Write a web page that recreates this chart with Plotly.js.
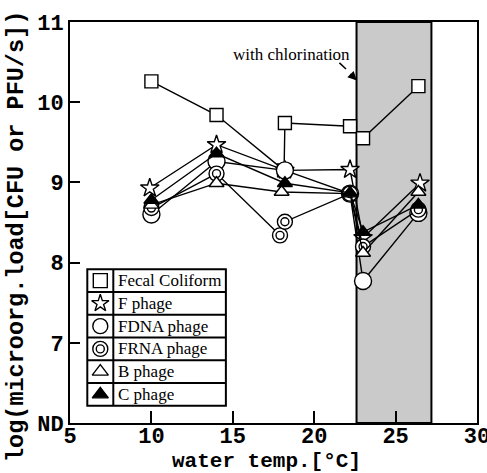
<!DOCTYPE html>
<html>
<head>
<meta charset="utf-8">
<script src="https://cdn.plot.ly/plotly-3.0.1.min.js"></script>
<style>
html,body{margin:0;padding:0;background:#fff;}
#chart{width:487px;height:473px;}
</style>
</head>
<body>
<div id="chart"></div>
<script>
// ---- data ----
const seriesNames = ['Fecal Coliform', 'F phage', 'FDNA phage', 'FRNA phage', 'B phage', 'C phage'];

const fcX   = [10, 14, 18.15, 18.2, 22.2, 23.0, 26.4];
const fcY   = [10.26, 9.84, 9.15, 9.74, 9.70, 9.55, 10.20];

const fX    = [9.9, 14, 18.2, 22.2, 23.0, 26.5];
const fY    = [8.93, 9.47, 9.15, 9.16, 8.31, 8.99];

const fdnaX = [10, 14, 18.2, 22.2, 23.0, 26.4];
const fdnaY = [8.60, 9.26, 9.15, 8.86, 7.77, 8.62];

const frnaX = [10, 14, 17.9, 18.2, 22.2, 23.0, 26.4];
const frnaY = [8.68, 9.11, 8.34, 8.51, 8.86, 8.20, 8.66];

const bX    = [10, 14, 18.0, 22.2, 23.0, 26.4];
const bY    = [8.72, 8.99, 8.88, 8.86, 8.12, 8.88];

const cX    = [10, 14, 18.2, 22.2, 23.0, 26.4];
const cY    = [8.78, 9.36, 8.99, 8.87, 8.38, 8.72];

const chlorStart = 22.6, chlorEnd = 27.2;
const yTickVals  = [6, 7, 8, 9, 10, 11];
const yTickText  = ['ND', '7', '8', '9', '10', '11'];
const xTickVals  = [5, 10, 15, 20, 25, 30];

// ---- styles ----
const ln = {color: '#000', width: 1.4};
const mk = (symbol, size, fill) => ({symbol: symbol, size: size, color: fill || '#fff', line: {color: '#000', width: 1.4}});

const traces = [
  {x: fcX, y: fcY, mode: 'lines+markers', line: ln, marker: mk('square', 13)},
  {x: fX, y: fY, mode: 'lines+markers', line: ln, marker: mk('star', 14)},
  {x: fdnaX, y: fdnaY, mode: 'lines+markers', line: ln, marker: mk('circle', 17)},
  {x: frnaX, y: frnaY, mode: 'lines+markers', line: ln, marker: mk('circle', 15)},
  {x: frnaX, y: frnaY, mode: 'markers', marker: mk('circle', 8)},
  {x: bX, y: bY, mode: 'lines+markers', line: ln, marker: mk('triangle-up', 13)},
  {x: cX, y: cY, mode: 'lines+markers', line: ln, marker: mk('triangle-up', 13, '#000')}
];

// ---- legend table (drawn on a helper axis pair) ----
const legSymbols = [
  [mk('square', 14)], [mk('star', 13)], [mk('circle', 15)],
  [mk('circle', 15), mk('circle', 8)], [mk('triangle-up', 14)], [mk('triangle-up', 14, '#000')]
];
const legRows = seriesNames.map((_, i) => i + 0.5);
legSymbols.forEach((list, i) => {
  list.forEach(m => traces.push({
    x: [0.5], y: [legRows[i]], xaxis: 'x2', yaxis: 'y2', mode: 'markers', marker: m, hoverinfo: 'skip'
  }));
});

const L = {x0: 0.0425, xs: 0.1064, x1: 0.383, y0: 0.0431, y1: 0.3833};
const rowH = (L.y1 - L.y0) / seriesNames.length;

const shapes = [
  {type: 'rect', xref: 'x', yref: 'paper', x0: chlorStart, x1: chlorEnd, y0: 0, y1: 1,
   fillcolor: '#cacaca', line: {color: '#000', width: 2}, layer: 'below'},
  {type: 'rect', xref: 'paper', yref: 'paper', x0: L.x0, x1: L.x1, y0: L.y0, y1: L.y1,
   fillcolor: '#fff', line: {color: '#000', width: 0}, layer: 'below'},
  {type: 'rect', xref: 'paper', yref: 'paper', x0: L.x0, x1: L.x1, y0: L.y0, y1: L.y1,
   fillcolor: 'rgba(0,0,0,0)', line: {color: '#000', width: 2}},
  {type: 'line', xref: 'paper', yref: 'paper', x0: L.xs, x1: L.xs, y0: L.y0, y1: L.y1,
   line: {color: '#000', width: 2}},
  {type: 'line', xref: 'x', yref: 'y', x0: 21.55, y0: 10.49, x1: 22.45, y1: 10.32,
   line: {color: '#000', width: 1.5, dash: 'dash'}}
];
for (let i = 1; i < seriesNames.length; i++) {
  const yy = L.y1 - i * rowH;
  shapes.push({type: 'line', xref: 'paper', yref: 'paper', x0: L.x0, x1: L.x1, y0: yy, y1: yy,
    line: {color: '#000', width: 2}});
}

const annotations = seriesNames.map((name, i) => ({
  xref: 'paper', yref: 'paper', x: L.xs + 0.006, y: L.y1 - (i + 0.5) * rowH,
  xanchor: 'left', yanchor: 'middle', showarrow: false, text: name,
  font: {family: 'Liberation Serif', size: 17, color: '#000'}
}));
annotations.push({
  xref: 'x', yref: 'y', x: 22.35, y: 10.6, xanchor: 'right', yanchor: 'middle', showarrow: false,
  text: 'with chlorination', font: {family: 'Liberation Serif', size: 17, color: '#000'}
});
annotations.push({
  xref: 'x', yref: 'y', x: 22.62, y: 10.27, ax: -8, ay: -8, showarrow: true,
  arrowhead: 2, arrowsize: 1.2, arrowwidth: 1.5, arrowcolor: '#000', text: ''
});
// axis titles placed as in the reference
annotations.push({
  xref: 'paper', yref: 'paper', x: 0.484, y: -0.0955, xanchor: 'center', yanchor: 'middle', showarrow: false,
  text: 'water temp.[°C]', font: {family: 'Liberation Mono', size: 21, color: '#000', weight: 'bold'}
});
annotations.push({
  xref: 'paper', yref: 'paper', x: -0.13, y: 0.464, xanchor: 'center', yanchor: 'middle', showarrow: false,
  textangle: -90, text: 'log(microorg.load[CFU or PFU/s])',
  font: {family: 'Liberation Mono', size: 23.5, color: '#000', weight: 'bold'}
});

const layout = {
  width: 487, height: 473,
  margin: {l: 70, r: 10, t: 22, b: 50},
  paper_bgcolor: '#fff', plot_bgcolor: 'rgba(0,0,0,0)',
  showlegend: false,
  xaxis: {
    range: [5, 30], tickvals: xTickVals, ticks: 'inside', ticklen: 12, tickwidth: 2, tickcolor: '#000',
    showline: true, linecolor: '#000', linewidth: 2, mirror: true, showgrid: false, zeroline: false,
    ticklabeloverflow: 'allow', ticklabelstandoff: -8,
    tickfont: {family: 'Liberation Mono', size: 22, color: '#000', weight: 'bold'}
  },
  yaxis: {
    range: [6, 11], tickvals: yTickVals, ticktext: yTickText, ticks: 'inside', ticklen: 10, tickwidth: 2,
    tickcolor: '#000', showline: true, linecolor: '#000', linewidth: 2, mirror: true, showgrid: false,
    zeroline: false, tickfont: {family: 'Liberation Mono', size: 22, color: '#000', weight: 'bold'}
  },
  xaxis2: {domain: [L.x0, L.xs], range: [0, 1], visible: false, fixedrange: true, anchor: 'y2'},
  yaxis2: {domain: [L.y0, L.y1], range: [seriesNames.length, 0], visible: false, fixedrange: true, anchor: 'x2'},
  shapes: shapes,
  annotations: annotations
};

Plotly.newPlot('chart', traces, layout, {staticPlot: true, displayModeBar: false});
</script>
</body>
</html>
